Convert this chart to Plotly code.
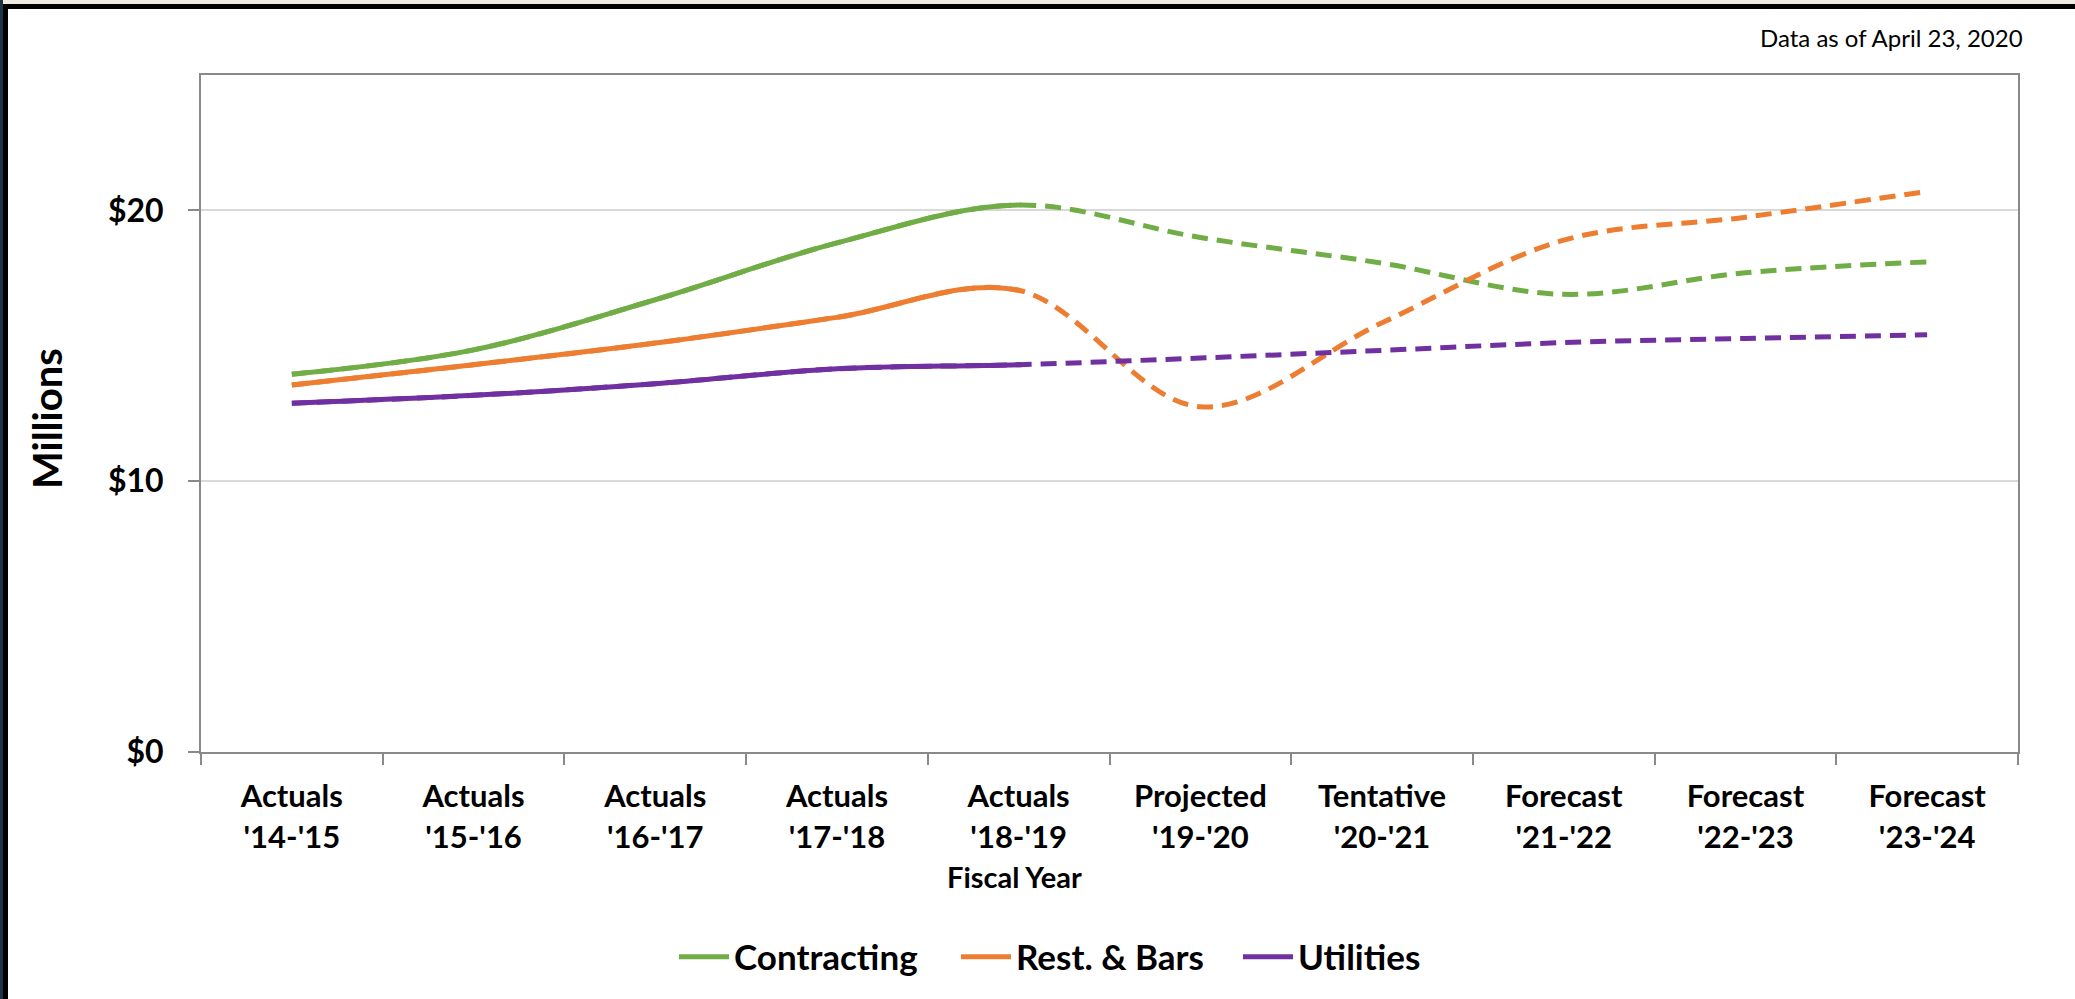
import math
import plotly.graph_objects as go

# ---------------- data ----------------
categories = ["Actuals<br>'14-'15", "Actuals<br>'15-'16", "Actuals<br>'16-'17",
              "Actuals<br>'17-'18", "Actuals<br>'18-'19", "Projected<br>'19-'20",
              "Tentative<br>'20-'21", "Forecast<br>'21-'22", "Forecast<br>'22-'23",
              "Forecast<br>'23-'24"]
contracting = [13.95, 14.85, 16.7, 18.8, 20.2, 19.0, 18.05, 16.9, 17.7, 18.1]
rest_bars = [13.55, 14.3, 15.1, 16.05, 17.05, 12.75, 15.85, 18.9, 19.75, 20.7]
utilities = [12.88, 13.17, 13.6, 14.15, 14.3, 14.55, 14.83, 15.12, 15.27, 15.41]
actual_count = 5  # first five fiscal years are actuals (solid line)
y_tickvals = [0, 10, 20]
y_ticktext = ["$0", "$10", "$20"]
series = [("Contracting", contracting, "#70AD47"),
          ("Rest. & Bars", rest_bars, "#ED7D31"),
          ("Utilities", utilities, "#7030A0")]

# ---------------- layout geometry ----------------
W, H = 2075, 999
ML, MR, MT, MB = 201, 57, 75, 247
PW, PH = W - ML - MR, H - MT - MB
YMAX = 25
px_per_cat = PW / len(categories)
px_per_unit = PH / YMAX


def fx(px):
    return (px - ML) / PW


def fy(py):
    return (H - MB - py) / PH


FONT = "Lato"
LW = 5

fig = go.Figure()
for name, vals, color in series:
    # dashed trace along the full series
    fig.add_trace(go.Scatter(
        x=categories, y=vals, mode="lines", name=name, legendgroup=name,
        showlegend=False, hoverinfo="skip",
        line=dict(color=color, width=LW, shape="spline", dash="16px,9px")))
    # solid part for actuals: a dash long enough to cover the actual segment
    seg = 0.0
    for i in range(actual_count - 1):
        seg += math.hypot(px_per_cat, (vals[i + 1] - vals[i]) * px_per_unit)
    seg *= 1.004
    fig.add_trace(go.Scatter(
        x=categories, y=vals, mode="lines", name=name, legendgroup=name,
        showlegend=False,
        line=dict(color=color, width=LW, shape="spline",
                  dash=f"{seg:.1f}px,100000px")))
    # legend entry
    fig.add_trace(go.Scatter(
        x=[None], y=[None], mode="lines", name=name, legendgroup=name,
        line=dict(color=color, width=LW)))

axis_color = "#898989"
fig.update_xaxes(
    type="category", range=[-0.5, len(categories) - 0.5],
    showline=True, linecolor=axis_color, linewidth=2, mirror=True,
    ticks="outside", tickson="boundaries", ticklen=11, tickwidth=2,
    tickcolor=axis_color, showgrid=False, zeroline=False,
    tickfont=dict(family=FONT, size=31, color="#000000", weight="bold"),
    ticklabelstandoff=16,
)
fig.update_yaxes(
    range=[0, YMAX], tickvals=y_tickvals, ticktext=y_ticktext,
    showline=True, linecolor=axis_color, linewidth=2, mirror=True,
    ticks="outside", ticklen=11, tickwidth=2, tickcolor=axis_color,
    showgrid=True, gridcolor="#D9D9D9", gridwidth=2, zeroline=False,
    tickfont=dict(family=FONT, size=32, color="#000000", weight="bold"),
    ticklabelstandoff=18,
)

annotations = [
    dict(text="Fiscal Year", x=fx(1014), y=fy(876), xref="paper", yref="paper",
         showarrow=False, xanchor="center", yanchor="middle",
         font=dict(family=FONT, size=29, color="#000000", weight="bold")),
    dict(text="Millions", x=fx(47), y=fy(419), xref="paper", yref="paper",
         showarrow=False, xanchor="center", yanchor="middle", textangle=-90,
         font=dict(family=FONT, size=40, color="#000000", weight="bold")),
    dict(text="Data as of April 23, 2020", x=fx(2025), y=fy(38), xref="paper",
         yref="paper", showarrow=False, xanchor="right", yanchor="middle",
         font=dict(family=FONT, size=24, color="#000000")),
]

shapes = [
    dict(type="rect", xref="paper", yref="paper", x0=fx(0), x1=fx(3), y0=fy(H), y1=fy(0),
         fillcolor="#1F3347", line=dict(width=0), layer="above"),
    dict(type="rect", xref="paper", yref="paper", x0=fx(3), x1=fx(W), y0=fy(4), y1=fy(0),
         fillcolor="#EFEBE0", line=dict(width=0), layer="above"),
    dict(type="rect", xref="paper", yref="paper", x0=fx(3), x1=fx(W), y0=fy(9), y1=fy(4),
         fillcolor="#000000", line=dict(width=0), layer="above"),
    dict(type="rect", xref="paper", yref="paper", x0=fx(3), x1=fx(8), y0=fy(H), y1=fy(4),
         fillcolor="#000000", line=dict(width=0), layer="above"),
]

fig.update_layout(
    width=W, height=H,
    margin=dict(l=ML, r=MR, t=MT, b=MB, autoexpand=False),
    paper_bgcolor="#FFFFFF", plot_bgcolor="#FFFFFF",
    showlegend=True,
    legend=dict(orientation="h", x=fx(1097), y=fy(957), xanchor="center",
                yanchor="middle", font=dict(family=FONT, size=35, color="#000000",
                                            weight="bold"),
                itemwidth=50, entrywidth=217, entrywidthmode="pixels",
                traceorder="normal", bgcolor="rgba(0,0,0,0)"),
    annotations=annotations, shapes=shapes,
    hovermode=False,
)

fig.write_html("out.html")
